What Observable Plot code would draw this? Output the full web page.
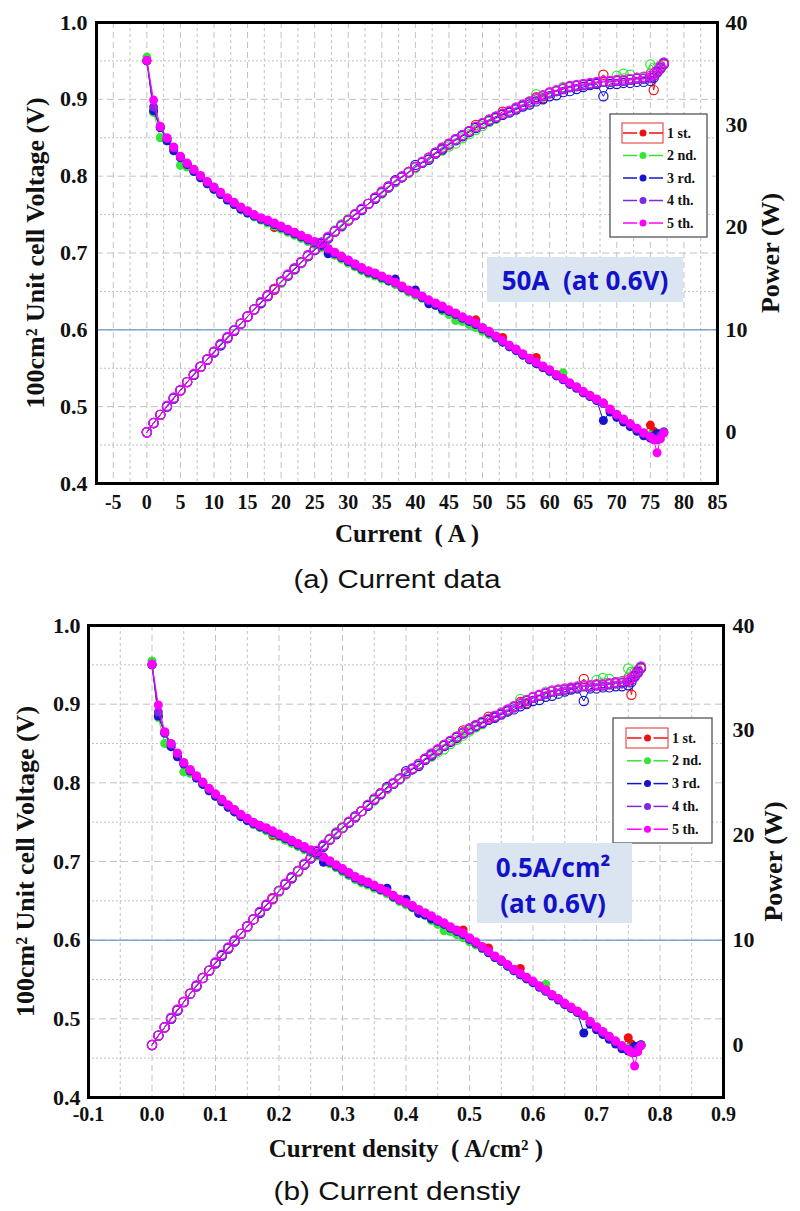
<!DOCTYPE html>
<html><head><meta charset="utf-8">
<script src="https://cdn.jsdelivr.net/npm/d3@7"></script>
<script src="https://cdn.jsdelivr.net/npm/@observablehq/plot@0.6"></script>
<style>
html,body{margin:0;padding:0;background:#fff;}
#page{position:relative;width:800px;height:1211px;overflow:hidden;background:#fff;}
.plotlayer{position:absolute;left:0;}
.plotlayer text{font-family:'Liberation Serif','Times New Roman',serif;font-weight:bold;fill:#111;}
</style></head><body><div id="page"></div>
<script>
// ---------- data ----------
const seriesNames = ["1 st.", "2 nd.", "3 rd.", "4 th.", "5 th."];
const seriesColors = ["#ee1111", "#33e633", "#1515d0", "#8028e0", "#ff00ff"];

const current = [0,1,2,3,4,5,6,7,8,9,
10,11,12,13,14,15,16,17,18,19,
20,21,22,23,24,25,26,27,28,29,
30,31,32,33,34,35,36,37,38,39,
40,41,42,43,44,45,46,47,48,49,
50,51,52,53,54,55,56,57,58,59,
60,61,62,63,64,65,66,67,68,69,
70,71,72,73,74,75,75.5,76,76.5,77];

const density = [0.00,0.01,0.02,0.03,0.04,0.05,0.06,0.07,0.08,0.09,
0.10,0.11,0.12,0.13,0.14,0.15,0.16,0.17,0.18,0.19,
0.20,0.21,0.22,0.23,0.24,0.25,0.26,0.27,0.28,0.29,
0.30,0.31,0.32,0.33,0.34,0.35,0.36,0.37,0.38,0.39,
0.40,0.41,0.42,0.43,0.44,0.45,0.46,0.47,0.48,0.49,
0.50,0.51,0.52,0.53,0.54,0.55,0.56,0.57,0.58,0.59,
0.60,0.61,0.62,0.63,0.64,0.65,0.66,0.67,0.68,0.69,
0.70,0.71,0.72,0.73,0.74,0.75,0.755,0.76,0.765,0.77];

const voltage1 = [0.950,0.884,0.864,0.849,0.837,0.825,0.816,0.808,0.800,0.792,
0.785,0.778,0.771,0.765,0.759,0.754,0.749,0.745,0.741,0.733,
0.734,0.730,0.726,0.722,0.718,0.714,0.710,0.705,0.700,0.695,
0.690,0.685,0.680,0.676,0.673,0.669,0.665,0.661,0.656,0.651,
0.647,0.643,0.638,0.634,0.630,0.625,0.621,0.616,0.612,0.613,
0.602,0.597,0.591,0.590,0.579,0.574,0.568,0.562,0.564,0.551,
0.547,0.541,0.536,0.530,0.525,0.519,0.514,0.509,0.504,0.496,
0.489,0.483,0.477,0.471,0.465,0.476,0.468,0.462,0.464,0.466];

const voltage2 = [0.955,0.883,0.850,0.846,0.834,0.814,0.812,0.806,0.798,0.790,
0.783,0.776,0.769,0.763,0.757,0.752,0.747,0.743,0.739,0.735,
0.731,0.727,0.723,0.719,0.715,0.711,0.707,0.702,0.697,0.692,
0.687,0.682,0.677,0.673,0.670,0.666,0.663,0.659,0.654,0.649,
0.645,0.641,0.636,0.632,0.625,0.620,0.612,0.611,0.607,0.603,
0.598,0.594,0.589,0.584,0.578,0.573,0.567,0.561,0.556,0.551,
0.546,0.541,0.544,0.530,0.525,0.519,0.514,0.509,0.504,0.496,
0.489,0.483,0.477,0.471,0.465,0.463,0.461,0.462,0.465,0.467];

const voltage3 = [0.950,0.885,0.863,0.846,0.833,0.824,0.815,0.806,0.798,0.790,
0.783,0.776,0.769,0.763,0.757,0.752,0.748,0.744,0.741,0.737,
0.733,0.729,0.725,0.721,0.717,0.713,0.709,0.699,0.699,0.694,
0.689,0.684,0.679,0.675,0.672,0.668,0.664,0.666,0.655,0.651,
0.652,0.642,0.634,0.632,0.627,0.624,0.620,0.615,0.611,0.607,
0.601,0.596,0.590,0.584,0.578,0.573,0.567,0.561,0.556,0.551,
0.546,0.540,0.535,0.529,0.524,0.518,0.513,0.508,0.482,0.493,
0.486,0.480,0.474,0.468,0.462,0.459,0.462,0.465,0.464,0.467];

const voltage4 = [0.950,0.890,0.864,0.849,0.837,0.825,0.816,0.808,0.800,0.792,
0.785,0.778,0.771,0.765,0.759,0.754,0.749,0.745,0.742,0.738,
0.734,0.730,0.726,0.722,0.718,0.714,0.710,0.705,0.700,0.695,
0.690,0.685,0.680,0.676,0.673,0.669,0.665,0.661,0.656,0.651,
0.647,0.643,0.638,0.634,0.630,0.625,0.621,0.616,0.612,0.608,
0.602,0.597,0.591,0.585,0.579,0.574,0.568,0.562,0.557,0.552,
0.547,0.541,0.536,0.530,0.525,0.519,0.514,0.509,0.504,0.496,
0.489,0.483,0.477,0.471,0.465,0.461,0.458,0.457,0.462,0.466];

const voltage5 = [0.951,0.899,0.865,0.850,0.838,0.826,0.817,0.809,0.801,0.793,
0.786,0.779,0.772,0.766,0.760,0.755,0.750,0.746,0.743,0.739,
0.735,0.731,0.727,0.723,0.719,0.715,0.711,0.706,0.701,0.696,
0.691,0.686,0.681,0.677,0.674,0.670,0.666,0.662,0.657,0.652,
0.648,0.644,0.639,0.635,0.631,0.626,0.622,0.617,0.613,0.609,
0.603,0.598,0.592,0.586,0.580,0.575,0.569,0.563,0.558,0.553,
0.548,0.542,0.537,0.531,0.526,0.520,0.515,0.510,0.505,0.497,
0.490,0.484,0.478,0.472,0.466,0.461,0.457,0.440,0.458,0.466];

const power1 = [0.0,0.9,1.7,2.5,3.3,4.1,4.9,5.6,6.4,7.1,
7.8,8.6,9.2,9.9,10.6,11.3,12.0,12.7,13.3,13.9,
14.7,15.3,16.0,16.6,17.2,17.8,18.5,19.0,19.6,20.2,
20.7,21.2,21.8,22.3,22.9,23.4,24.0,24.5,24.9,25.4,
25.9,26.3,26.8,27.3,27.7,28.1,28.6,29.0,29.4,30.0,
30.1,30.5,30.8,31.3,31.3,31.6,31.9,32.2,32.7,32.6,
33.1,33.3,33.5,33.7,33.8,33.9,34.0,34.1,34.9,34.2,
34.3,34.3,34.4,34.5,34.5,35.0,33.4,35.1,35.5,35.9];

const power2 = [0.0,0.9,1.7,2.5,3.3,4.1,4.9,5.6,6.4,7.1,
7.8,8.5,9.2,9.9,10.6,11.3,12.0,12.6,13.3,14.0,
14.6,15.3,15.9,16.5,17.2,17.8,18.4,19.0,19.7,20.3,
20.8,21.3,21.8,22.3,22.8,23.3,23.9,24.4,24.9,25.3,
25.8,26.3,26.7,27.2,27.5,27.9,28.2,28.7,29.1,29.5,
29.9,30.3,30.6,31.0,31.3,31.6,31.9,32.3,33.0,32.8,
33.1,33.3,33.7,33.7,33.8,33.9,34.0,34.1,34.2,34.2,
34.8,35.0,34.9,34.6,34.6,35.9,35.6,35.6,35.8,36.0];

const power3 = [0.0,0.9,1.7,2.5,3.3,4.1,4.9,5.6,6.4,7.1,
7.8,8.5,9.2,9.9,10.6,11.3,12.0,12.6,13.3,14.0,
14.7,15.3,15.9,16.6,17.2,17.8,18.4,18.9,19.6,20.1,
20.7,21.2,21.7,22.3,22.8,23.4,23.9,24.6,24.9,25.4,
26.1,26.3,26.6,27.2,27.6,28.1,28.5,28.9,29.3,29.7,
30.1,30.4,30.7,31.0,31.2,31.5,31.8,32.0,32.3,32.5,
32.8,32.9,33.2,33.3,33.5,33.7,33.9,34.0,32.8,34.0,
34.0,34.1,34.1,34.2,34.2,34.3,34.6,35.2,35.6,36.0];

const power4 = [0.0,0.9,1.7,2.5,3.3,4.1,4.9,5.6,6.4,7.1,
7.8,8.6,9.2,9.9,10.6,11.3,12.0,12.7,13.3,14.0,
14.7,15.3,16.0,16.6,17.2,17.8,18.5,19.0,19.6,20.2,
20.7,21.2,21.8,22.3,22.9,23.4,24.0,24.5,24.9,25.4,
25.9,26.3,26.8,27.3,27.7,28.1,28.6,29.0,29.4,29.8,
30.1,30.5,30.8,31.1,31.3,31.6,31.9,32.2,32.5,32.8,
33.1,33.3,33.5,33.7,33.8,33.9,34.0,34.1,34.2,34.2,
34.3,34.3,34.4,34.5,34.5,34.6,34.8,35.1,35.5,36.0];

const power5 = [0.0,0.9,1.7,2.6,3.4,4.1,4.9,5.7,6.4,7.1,
7.9,8.6,9.3,10.0,10.6,11.3,12.0,12.7,13.4,14.0,
14.7,15.4,16.0,16.6,17.3,17.9,18.5,19.1,19.6,20.2,
20.7,21.3,21.8,22.3,22.9,23.5,24.0,24.5,25.0,25.4,
25.9,26.4,26.8,27.3,27.8,28.2,28.6,29.0,29.4,29.8,
30.2,30.5,30.8,31.1,31.4,31.7,32.0,32.3,32.6,32.9,
33.2,33.4,33.6,33.8,33.9,34.0,34.1,34.2,34.3,34.3,
34.4,34.4,34.5,34.6,34.7,34.8,35.0,35.3,35.7,36.1];

const voltageTicks = [0.4, 0.5, 0.6, 0.7, 0.8, 0.9, 1.0];
const powerTicks = [0, 10, 20, 30, 40];
const currentTicks = [-5,0,5,10,15,20,25,30,35,40,45,50,55,60,65,70,75,80,85];
const densityTicks = [-0.1,0.0,0.1,0.2,0.3,0.4,0.5,0.6,0.7,0.8,0.9];
const voltageGridMajor = [0.5, 0.6, 0.7, 0.8, 0.9];
const voltageGridMinor = [0.45, 0.55, 0.65, 0.75, 0.85, 0.95];
const currentGridMajor = [-5,0,5,10,15,20,25,30,35,40,45,50,55,60,65,70,75,80];
const currentGridMinor = [-2.5,2.5,7.5,12.5,17.5,22.5,27.5,32.5,37.5,42.5,47.5,52.5,57.5,62.5,67.5,72.5,77.5,82.5];
const densityGridMajor = [0.0,0.1,0.2,0.3,0.4,0.5,0.6,0.7,0.8];
const densityGridMinor = [-0.05,0.05,0.15,0.25,0.35,0.45,0.55,0.65,0.75,0.85];
const referenceVoltage = 0.6;

const voltageTitle = "100cm² Unit cell Voltage (V)";
const powerTitle = "Power (W)";
const currentTitle = "Current  ( A )";
const densityTitle = "Current density  ( A/cm² )";
const captionA = "(a) Current data";
const captionB = "(b) Current denstiy";
const noteA = ["50A  (at 0.6V)"];
const noteB = ["0.5A/cm²", "(at 0.6V)"];

// ---------- build ----------
const voltages = [voltage1, voltage2, voltage3, voltage4, voltage5];
const powers = [power1, power2, power3, power4, power5];
const seriesRows = voltages.map((v, s) => current.map((c, i) => ({
  current: c, density: density[i], V: v[i], P: powers[s][i]
})));

const page = document.getElementById("page");
const gridColor = "#c2c2c2";

function fmtInt(d) { return d < 0 ? "-" + Math.abs(d) : String(d); }
function fmtDec(d) { return (d < 0 ? "-" : "") + Math.abs(d).toFixed(1); }

function panel(cfg) {
  const common = {
    width: 800, height: cfg.height,
    marginTop: cfg.mt, marginBottom: cfg.mb, marginLeft: cfg.ml, marginRight: cfg.mr,
    style: {background: "transparent", overflow: "visible"}
  };
  const vMarks = [
    Plot.gridX(cfg.xMinor, {stroke: gridColor, strokeOpacity: 1, strokeDasharray: "3,3"}),
    Plot.gridX(cfg.xMajor, {stroke: gridColor, strokeOpacity: 1, strokeDasharray: "6,4"}),
    Plot.gridY(voltageGridMinor, {stroke: gridColor, strokeOpacity: 1, strokeDasharray: "2,2"}),
    Plot.gridY(voltageGridMajor, {stroke: gridColor, strokeOpacity: 1, strokeDasharray: "7,4"}),
    Plot.ruleY([referenceVoltage], {stroke: "#86a6c8", strokeWidth: 1.5})
  ];
  seriesRows.forEach((rows, s) => {
    vMarks.push(Plot.line(rows, {x: cfg.xKey, y: "V", stroke: seriesColors[s], strokeWidth: 1}));
    vMarks.push(Plot.dot(rows, {x: cfg.xKey, y: "V", r: 4.5, fill: seriesColors[s], stroke: "none"}));
  });
  vMarks.push(
    Plot.axisX({ticks: cfg.xTicks, tickSize: 0, tickPadding: cfg.xPad, tickFormat: cfg.xFmt, fontSize: 20, label: null}),
    Plot.axisY({ticks: voltageTicks, tickSize: 0, tickPadding: cfg.lPad, tickFormat: d => d.toFixed(1), fontSize: 22, label: null}),
    Plot.frame({stroke: "#000", strokeWidth: 3}),
    Plot.text([voltageTitle], {text: d => d, frameAnchor: "left", textAnchor: "middle", lineAnchor: "middle",
      dx: cfg.yTitleDx, rotate: -90, fontSize: 26}),
    Plot.text([cfg.xTitle], {text: d => d, frameAnchor: "bottom", textAnchor: "middle", lineAnchor: "middle",
      dy: cfg.xTitleDy, fontSize: 25})
  );
  const vPlot = Plot.plot({...common, x: {domain: cfg.xDomain}, y: {domain: [0.4, 1.0]}, marks: vMarks});

  const pMarks = [];
  seriesRows.forEach((rows, s) => {
    pMarks.push(Plot.line(rows, {x: cfg.xKey, y: "P", stroke: seriesColors[s], strokeWidth: 1}));
    pMarks.push(Plot.dot(rows, {x: cfg.xKey, y: "P", r: 4.6, fill: "none", stroke: seriesColors[s], strokeWidth: 1.2}));
  });
  pMarks.push(
    Plot.axisY({anchor: "right", ticks: powerTicks, tickSize: 0, tickPadding: cfg.rPad, fontSize: 22, label: null}),
    Plot.text([powerTitle], {text: d => d, frameAnchor: "right", textAnchor: "middle", lineAnchor: "middle",
      dx: cfg.pTitleDx, rotate: -90, fontSize: 26})
  );
  const pPlot = Plot.plot({...common, x: {domain: cfg.xDomain, axis: null}, y: {domain: [-5, 40]}, marks: pMarks});

  [vPlot, pPlot].forEach(p => {
    p.classList.add("plotlayer");
    p.style.top = cfg.top + "px";
    page.appendChild(p);
  });
}

panel({top: 0, height: 550, mt: 22, mb: 67, ml: 96, mr: 83,
  xKey: "current", xDomain: [-7.5, 85], xTicks: currentTicks, xFmt: fmtInt,
  xMajor: currentGridMajor, xMinor: currentGridMinor, xTitle: currentTitle,
  xPad: 11, lPad: 9, rPad: 8, yTitleDx: -61, pTitleDx: 53, xTitleDy: 50});

panel({top: 600, height: 570, mt: 25, mb: 73, ml: 88, mr: 77,
  xKey: "density", xDomain: [-0.1, 0.9], xTicks: densityTicks, xFmt: fmtDec,
  xMajor: densityGridMajor, xMinor: densityGridMinor, xTitle: densityTitle,
  xPad: 9, lPad: 8, rPad: 9, yTitleDx: -63, pTitleDx: 50, xTitleDy: 51});

// ---------- overlay: notes, legends, captions ----------
const ov = d3.create("svg").attr("width", 800).attr("height", 1211)
  .style("position", "absolute").style("left", 0).style("top", 0);

function legend(x, y, w, h, sx1, sx2, tx, rowY, rowH) {
  const g = ov.append("g");
  g.append("rect").attr("x", x).attr("y", y).attr("width", w).attr("height", h)
    .attr("fill", "#fff").attr("stroke", "#555").attr("stroke-width", 1.3);
  const mid = (sx1 + sx2) / 2;
  seriesNames.forEach((name, i) => {
    const cy = y + rowY + i * rowH;
    g.append("line").attr("x1", sx1).attr("x2", mid - 6).attr("y1", cy).attr("y2", cy)
      .attr("stroke", seriesColors[i]).attr("stroke-width", 1.5);
    g.append("line").attr("x1", mid + 6).attr("x2", sx2).attr("y1", cy).attr("y2", cy)
      .attr("stroke", seriesColors[i]).attr("stroke-width", 1.5);
    g.append("circle").attr("cx", mid).attr("cy", cy).attr("r", 3.5).attr("fill", seriesColors[i]);
    g.append("text").attr("x", tx).attr("y", cy + 4.5).text(name)
      .style("font-family", "'Liberation Serif', serif").style("font-weight", "bold")
      .style("font-size", "14px").attr("fill", "#111");
    if (i === 0) {
      g.append("rect").attr("x", sx1 - 1).attr("y", cy - 10).attr("width", sx2 - sx1 + 1).attr("height", 20)
        .attr("fill", "none").attr("stroke", "#e03030").attr("stroke-width", 1);
    }
  });
}
legend(610, 114, 97, 123, 623, 663, 667, 19, 22.5);
legend(613, 718, 99, 125, 627, 668, 672, 20, 22.8);

function note(x, y, w, h, lines, cx, baseline, lineH) {
  ov.append("rect").attr("x", x).attr("y", y).attr("width", w).attr("height", h).attr("fill", "#dbe5f1");
  lines.forEach((t, i) => {
    ov.append("text").attr("x", cx).attr("y", baseline + i * lineH).attr("text-anchor", "middle")
      .attr("xml:space", "preserve").style("white-space", "pre")
      .style("font-family", "'Open Sans', sans-serif").style("font-weight", "bold")
      .style("font-size", "26px").attr("fill", "#1212c8").text(t);
  });
}
note(487, 257, 196, 45, noteA, 585, 290, 0);
note(477, 843, 155, 80, noteB, 553, 877, 36);

function caption(t, y, len) {
  ov.append("text").attr("x", 397).attr("y", y).attr("text-anchor", "middle")
    .attr("textLength", len).attr("lengthAdjust", "spacingAndGlyphs")
    .style("font-family", "'Liberation Sans', Arial, sans-serif").style("font-size", "25px")
    .attr("fill", "#111").text(t);
}
caption(captionA, 588, 207);
caption(captionB, 1200, 247);

page.appendChild(ov.node());
</script></body></html>
